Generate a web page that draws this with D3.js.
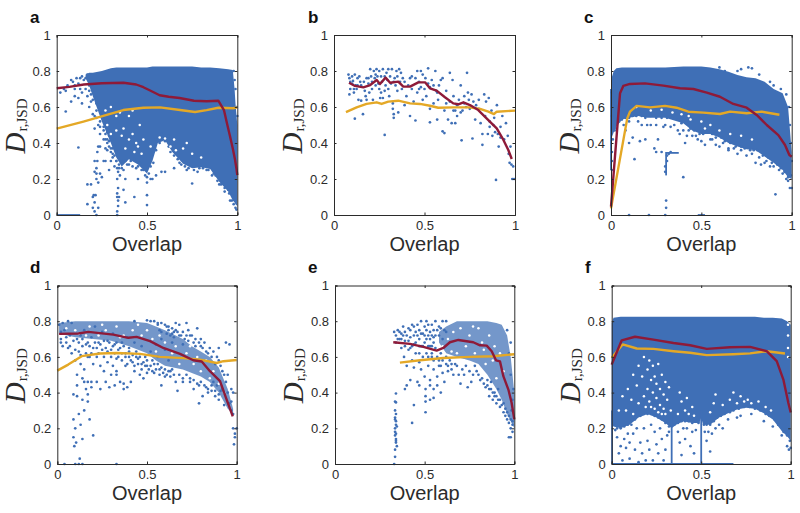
<!DOCTYPE html>
<html><head><meta charset="utf-8">
<script src="https://cdn.jsdelivr.net/npm/d3@7"></script>
<style>html,body{margin:0;padding:0;background:#fff}svg{display:block}</style></head>
<body><svg id="c" width="800" height="513"></svg>
<script>
const xTicks=[0,0.5,1], yTicks=[0,0.2,0.4,0.6,0.8,1];
// curves
const aRed=[[0,.704],[.07,.712],[.15,.725],[.25,.732],[.37,.735],[.44,.725],[.48,.71],[.52,.69],[.57,.665],[.62,.657],[.68,.65],[.76,.635],[.83,.632],[.895,.635],[.926,.583],[.945,.5],[.959,.44],[.975,.37],[.987,.31],[.995,.26],[1,.222]];
const aYel=[[0,.48],[.148,.519],[.277,.556],[.369,.583],[.48,.596],[.572,.598],[.683,.583],[.766,.572],[.83,.583],[.895,.596],[.978,.593],[1,.598]];
const bRed=[[.083,.735],[.116,.717],[.162,.709],[.2,.722],[.236,.75],[.254,.728],[.285,.763],[.31,.735],[.355,.741],[.383,.713],[.42,.713],[.466,.737],[.503,.737],[.53,.704],[.567,.691],[.613,.654],[.659,.62],[.687,.615],[.715,.626],[.751,.611],[.797,.583],[.843,.537],[.899,.481],[.936,.417],[.963,.361],[.982,.311]];
const bYel=[[.066,.572],[.125,.598],[.18,.617],[.236,.626],[.263,.617],[.3,.63],[.355,.635],[.42,.62],[.475,.617],[.53,.607],[.576,.596],[.659,.598],[.751,.598],[.807,.589],[.853,.574],[.884,.561],[.899,.574],[1,.58]];
const cRed=[[0,.046],[.022,.324],[.05,.676],[.068,.717],[.105,.728],[.188,.731],[.29,.719],[.382,.704],[.456,.7],[.53,.68],[.603,.657],[.677,.617],[.751,.596],[.806,.556],[.862,.5],[.926,.444],[.963,.389],[.987,.333],[1,.324]];
const cYel=[[0,.037],[.09,.537],[.105,.574],[.142,.606],[.216,.598],[.299,.606],[.363,.596],[.428,.574],[.511,.569],[.603,.561],[.659,.574],[.751,.565],[.834,.574],[.932,.557]];
const dRed=[[.01,.729],[.117,.731],[.173,.74],[.312,.725],[.396,.707],[.442,.712],[.517,.688],[.591,.65],[.684,.617],[.758,.581],[.805,.574],[.851,.52],[.907,.464],[.944,.361],[.978,.267]];
const dYel=[[0,.523],[.061,.557],[.136,.604],[.238,.619],[.331,.622],[.461,.617],[.572,.6],[.703,.593],[.796,.585],[.888,.566],[.926,.576],[1,.583]];
const eRed=[[.325,.682],[.418,.673],[.493,.656],[.567,.635],[.604,.65],[.641,.682],[.688,.695],[.771,.682],[.809,.665],[.846,.663],[.874,.632],[.898,.581],[.92,.575],[.939,.492],[.967,.417],[.985,.343],[1,.25]];
const eYel=[[.362,.568],[.474,.581],[.604,.594],[.753,.6],[.883,.604],[1,.615]];
const fRed=[[0,.557],[.019,.604],[.056,.693],[.13,.713],[.233,.697],[.345,.678],[.438,.665],[.531,.645],[.661,.654],[.773,.656],[.866,.632],[.922,.576],[.959,.473],[.987,.342],[1,.288]];
const fYel=[[0,.595],[.061,.67],[.14,.647],[.233,.645],[.345,.632],[.438,.623],[.531,.61],[.68,.615],[.773,.62],[.866,.632],[.968,.619]];
// dense cloud outlines: [overlap, upper, lower]
const aCloud=[[.16,.78,.76],[.18,.79,.72],[.2,.79,.66],[.25,.8,.52],[.3,.815,.4],[.33,.82,.32],[.36,.82,.27],[.4,.82,.31],[.45,.82,.28],[.5,.82,.23],[.53,.825,.3],[.56,.825,.4],[.6,.825,.415],[.64,.825,.35],[.7,.825,.285],[.75,.825,.26],[.8,.82,.265],[.85,.82,.255],[.9,.815,.185],[.95,.81,.13],[.975,.805,.08],[.985,.7,.07],[.99,.62,.06],[1,.5,.05]];
const bCloud=[];
const cCloud=[[0,.75,.42],[.015,.8,.46],[.03,.815,.49],[.06,.82,.53],[.1,.82,.54],[.15,.82,.55],[.2,.82,.54],[.3,.82,.54],[.4,.825,.51],[.45,.825,.47],[.5,.825,.45],[.55,.82,.45],[.6,.81,.43],[.65,.796,.4],[.7,.778,.38],[.75,.765,.365],[.8,.76,.36],[.85,.74,.325],[.9,.70,.29],[.95,.676,.25],[.98,.6,.21],[1,.35,.2]];
const dCloud=[[.01,.79,.73],[.1,.8,.71],[.2,.8,.7],[.3,.8,.69],[.4,.8,.66],[.5,.79,.62],[.55,.77,.58],[.6,.75,.55],[.7,.7,.53],[.75,.66,.51],[.8,.63,.49],[.85,.6,.46],[.9,.54,.4],[.95,.42,.31],[.98,.31,.28]];
const eCloud=[[.58,.74,.68],[.62,.77,.62],[.68,.8,.6],[.75,.8,.58],[.8,.8,.56],[.85,.8,.5],[.9,.79,.42],[.93,.78,.36],[.96,.72,.28],[.98,.6,.24],[1,.4,.2]];
const fCloud=[[0,.79,.22],[.01,.82,.21],[.05,.825,.2],[.1,.825,.22],[.15,.825,.26],[.2,.825,.28],[.25,.825,.26],[.3,.825,.23],[.335,.825,.2],[.36,.825,.22],[.4,.825,.24],[.45,.825,.23],[.49,.825,.23],[.5,.825,.26],[.51,.825,.22],[.55,.825,.22],[.6,.825,.26],[.65,.825,.285],[.7,.825,.305],[.75,.825,.315],[.8,.825,.31],[.85,.82,.285],[.9,.82,.25],[.95,.815,.185],[.98,.8,.155],[1,.78,.13]];
// thin runs of overlapping dots: [x0,y0,x1,y1]
const aRuns=[[0,0,.13,0]];
const bRuns=[];
const cRuns=[[.31,.345,.375,.345],[.305,.22,.305,.35],[.48,0,.52,0],[0,.25,0,.7]];
const dRuns=[];
const eRuns=[];
const fRuns=[[.335,0,.335,.28],[.5,0,.5,.3],[0,0,.68,0],[.002,0,.002,.3]];
// single dots
const aPts=[[.02,.68],[.04,.7],[.05,.69],[.06,.72],[.08,.75],[.09,.74],[.1,.72],[.1,.7],[.11,.76],[.12,.73],[.13,.7],[.14,.77],[.14,.68],[.05,.575],[.08,.63],[.1,.66],[.12,.375],[.12,.65],[.14,.62],[.16,.7],[.17,.66],[.18,.72],[.18,.6],[.19,.67],[.2,.71],[.2,.56],[.21,.48],[.22,.62],[.22,.54],[.23,.5],[.25,.55],[.26,.47],[.24,.45],[.17,.06],[.17,.17],[.19,.17],[.2,.1],[.2,.04],[.205,.11],[.21,.07],[.21,.02],[.215,.11],[.22,0],[.22,.23],[.22,.26],[.225,.3],[.225,.35],[.23,.04],[.21,.3],[.21,.24],[.22,.2],[.23,.18],[.24,.23],[.25,.21],[.24,.38],[.26,.3],[.23,.38],[.27,.42],[.335,0],[.335,.02],[.34,.05],[.34,.08],[.335,.1],[.335,.12],[.345,.1],[.34,.15],[.335,.2],[.34,.24],[.345,.28],[.35,.22],[.335,.26],[.33,.3],[.36,.3],[.37,.25],[.38,.2],[.37,.14],[.38,.07],[.3,.3],[.3,.35],[.29,.25],[.27,.3],[.28,.36],[.31,.37],[.32,.42],[.3,.42],[.33,.35],[.29,.44],[.28,.4],[.31,.32],[.32,.27],[.43,.1],[.5,.055],[.5,.11],[.52,.2],[.53,.2],[.55,.22],[.58,.24],[.5,.21],[.5,.18],[.45,.2],[.4,.28],[.42,.27],[.44,.26],[.47,.25],[.6,.24],[.65,.26],[.75,.175],[.83,.25],[.86,.22],[.88,.22],[.93,.13],[.95,.14],[.92,.18],[.9,.17],[.58,.45],[.6,.43],[.62,.44],[.56,.43],[.55,.42],[.68,.29],[.72,.25],[.78,.24],[.96,.08]];
const aEdge=[[.2,.64],[.22,.58],[.24,.52],[.26,.49],[.27,.45],[.28,.42],[.29,.38],[.31,.34],[.33,.3],[.345,.26],[.36,.26],[.38,.3],[.39,.28],[.41,.3],[.43,.31],[.45,.27],[.46,.29],[.48,.25],[.49,.22],[.51,.23],[.52,.27],[.535,.29],[.55,.36],[.57,.4],[.6,.41],[.62,.38],[.63,.35],[.65,.33],[.67,.31],[.69,.28],[.71,.27],[.73,.26],[.76,.25],[.79,.26],[.81,.26],[.84,.25],[.87,.23],[.89,.19],[.91,.17],[.93,.15],[.955,.12],[.97,.08],[.98,.06],[.99,.04],[.995,.03],[.16,.76],[.17,.78],[.15,.75],[.13,.76],[.18,.69],[.2,.69],[.22,.65],[.19,.63],[.23,.6],[.25,.57],[.21,.55],[.27,.54],[.24,.49],[.28,.46],[.26,.42],[.29,.41],[.27,.37],[.3,.37],[.32,.33],[.98,.8],[.985,.75],[.99,.7],[.995,.6],[1,.55]];
const aHoles=[[.3,.6],[.27,.58],[.28,.5],[.3,.45],[.33,.55],[.35,.57],[.37,.48],[.4,.55],[.4,.42],[.42,.45],[.44,.4],[.46,.5],[.45,.38],[.48,.42],[.42,.58],[.36,.44],[.33,.47],[.38,.37],[.57,.43],[.6,.425],[.63,.38],[.65,.42],[.7,.37],[.72,.4],[.66,.36],[.75,.34],[.8,.32],[.52,.38],[.47,.34],[.43,.35]];
const bPts=[[.08,.78],[.085,.76],[.09,.74],[.09,.7],[.085,.67],[.1,.77],[.105,.745],[.11,.7],[.11,.68],[.115,.78],[.12,.72],[.125,.7],[.13,.76],[.135,.64],[.14,.77],[.145,.74],[.15,.72],[.15,.635],[.115,.535],[.16,.56],[.165,.74],[.17,.69],[.175,.66],[.18,.76],[.18,.64],[.19,.73],[.195,.68],[.2,.81],[.205,.77],[.21,.74],[.21,.7],[.215,.64],[.22,.8],[.225,.76],[.23,.72],[.235,.81],[.24,.77],[.245,.73],[.25,.8],[.25,.7],[.255,.65],[.26,.77],[.26,.68],[.265,.74],[.27,.81],[.27,.65],[.28,.77],[.28,.445],[.285,.72],[.29,.79],[.295,.75],[.3,.81],[.3,.7],[.305,.66],[.31,.77],[.315,.73],[.32,.81],[.325,.62],[.325,.59],[.33,.56],[.33,.54],[.335,.76],[.34,.72],[.345,.8],[.35,.77],[.35,.69],[.355,.57],[.36,.81],[.365,.74],[.37,.79],[.375,.7],[.38,.76],[.39,.61],[.4,.66],[.41,.72],[.42,.55],[.43,.77],[.43,.7],[.44,.63],[.45,.76],[.45,.525],[.46,.68],[.46,.8],[.47,.74],[.48,.8],[.48,.71],[.49,.78],[.49,.64],[.5,.7],[.505,.76],[.51,.66],[.52,.815],[.52,.73],[.53,.59],[.53,.515],[.54,.75],[.55,.72],[.55,.62],[.56,.8],[.565,.69],[.57,.53],[.575,.64],[.58,.72],[.59,.75],[.6,.76],[.6,.465],[.61,.455],[.61,.58],[.62,.69],[.63,.53],[.64,.79],[.64,.63],[.65,.51],[.655,.75],[.66,.66],[.67,.51],[.67,.58],[.68,.55],[.68,.61],[.69,.64],[.7,.72],[.705,.415],[.71,.58],[.72,.66],[.73,.6],[.735,.79],[.74,.68],[.745,.64],[.75,.59],[.76,.67],[.765,.425],[.77,.63],[.78,.53],[.785,.61],[.8,.59],[.81,.51],[.82,.39],[.82,.45],[.83,.67],[.835,.55],[.84,.63],[.85,.45],[.855,.65],[.86,.49],[.87,.58],[.875,.44],[.885,.54],[.89,.46],[.895,.195],[.9,.61],[.905,.45],[.91,.38],[.92,.43],[.93,.55],[.94,.42],[.95,.51],[.96,.44],[.965,.34],[.97,.29],[.975,.38],[.98,.28],[.985,.2],[.99,.27],[.995,.2],[.92,.49],[.88,.5],[.86,.52],[.8,.64],[.76,.6],[.72,.62],[.7,.57],[.66,.58],[.62,.62],[.57,.68],[.53,.71],[.47,.7],[.42,.76],[.39,.74],[.33,.74],[.28,.69],[.23,.78],[.19,.76],[.13,.72],[.1,.73]];
const bEdge=[];
const bHoles=[];
const cPts=[[.005,.35],[.005,.3],[.005,.25],[.01,.42],[.07,.5],[.08,.47],[.1,.4],[.12,.43],[.13,.31],[.16,.41],[.19,.42],[.2,.5],[.25,.5],[.26,.42],[.24,.37],[.25,.35],[.28,.35],[.3,.5],[.33,.49],[.37,.47],[.38,.45],[.4,.47],[.42,.44],[.4,.21],[.41,.4],[.45,.44],[.48,.42],[.5,.41],[.52,.39],[.55,.42],[.58,.39],[.6,.38],[.65,.36],[.7,.34],[.75,.33],[.8,.29],[.83,.28],[.85,.29],[.88,.27],[.91,.115],[.95,.23],[.97,.2],[.98,.19],[.99,.15],[1,.15],[.305,.08],[.305,.04],[.21,0],[.3,0],[.1,0],[.32,.34],[.33,.35],[.31,.33],[.31,.3],[.3,.27],[.3,.24],[.65,.37],[.72,.36],[.47,.44],[.15,.52],[.17,.5],[.22,.5],[.29,.49],[.35,.5],[.43,.47],[.56,.42],[.62,.4],[.68,.37],[.78,.34],[.82,.32],[.86,.3],[.9,.27],[.93,.25],[.1,.52],[.66,.78],[.7,.8],[.72,.81],[.76,.82],[.78,.815],[.82,.78],[.9,.72],[.88,.74],[.94,.7],[.97,.67],[.63,.8],[.6,.82]];
const cEdge=[[.005,.68],[.005,.55],[.01,.5],[.02,.47],[.03,.48],[.045,.52],[.06,.53],[.08,.54],[.1,.54],[.12,.55],[.14,.55],[.17,.55],[.19,.54],[.22,.55],[.25,.54],[.28,.54],[.31,.54],[.34,.54],[.37,.53],[.39,.51],[.42,.51],[.44,.48],[.46,.47],[.49,.45],[.51,.45],[.53,.46],[.56,.45],[.58,.43],[.61,.43],[.63,.41],[.66,.4],[.69,.38],[.72,.38],[.74,.37],[.77,.36],[.79,.36],[.81,.36],[.84,.33],[.87,.32],[.89,.29],[.92,.28],[.94,.26],[.96,.24],[.98,.21],[.995,.22],[.99,.5],[.995,.4],[1,.3],[.985,.6]];
const cHoles=[[.14,.6],[.22,.58],[.28,.585],[.34,.57],[.39,.56],[.44,.53],[.5,.52],[.55,.5],[.6,.47],[.66,.45],[.72,.44],[.78,.42],[.52,.48],[.43,.55]];
const dPts=[[.01,.78],[.02,.74],[.03,.79],[.02,.68],[.04,.75],[.05,.68],[.06,.8],[.06,.65],[.07,.72],[.08,.79],[.08,.62],[.09,.39],[.09,.25],[.09,.15],[.095,.1],[.1,.58],[.1,.2],[.105,.12],[.11,.7],[.11,.5],[.11,.44],[.11,.38],[.12,.63],[.12,.28],[.125,.03],[.13,.72],[.13,.22],[.13,.56],[.14,.66],[.14,.48],[.14,.36],[.14,.14],[.15,.75],[.15,.53],[.15,.46],[.15,.3],[.16,.62],[.16,.42],[.17,.68],[.17,.46],[.17,.39],[.17,.35],[.18,.25],[.18,.6],[.19,.71],[.19,.46],[.19,.43],[.2,.65],[.2,.56],[.2,.16],[.21,.77],[.22,.6],[.22,.46],[.23,.68],[.24,.55],[.24,.42],[.25,.74],[.25,.64],[.26,.52],[.27,.46],[.28,.69],[.28,.57],[.29,.43],[.3,.64],[.3,.5],[.31,.73],[.31,.55],[.32,.67],[.32,.44],[.33,.59],[.33,.52],[.33,.5],[.34,.64],[.35,.46],[.36,.68],[.36,.58],[.37,.45],[.37,.42],[.38,.62],[.38,.55],[.39,.71],[.39,.43],[.4,.65],[.4,.6],[.41,.46],[.42,.57],[.43,.68],[.43,.52],[.44,.63],[.45,.59],[.46,.5],[.47,.66],[.47,.56],[.48,.48],[.49,.6],[.5,.55],[.5,.51],[.52,.63],[.53,.58],[.54,.51],[.55,.67],[.56,.6],[.57,.53],[.58,.44],[.58,.7],[.6,.64],[.6,.49],[.61,.77],[.62,.58],[.63,.52],[.64,.68],[.65,.74],[.66,.46],[.67,.41],[.68,.78],[.69,.72],[.7,.67],[.7,.48],[.72,.79],[.73,.75],[.74,.46],[.75,.72],[.76,.42],[.77,.7],[.78,.76],[.79,.34],[.79,.44],[.8,.7],[.81,.38],[.82,.68],[.83,.43],[.84,.4],[.85,.65],[.86,.41],[.87,.63],[.88,.38],[.89,.6],[.9,.65],[.9,.36],[.91,.55],[.92,.42],[.93,.33],[.94,.68],[.95,.5],[.96,.67],[.97,.42],[.98,.2],[.98,.4],[.99,.17],[.985,.11],[.99,.15],[1,.2],[.04,0],[.1,0],[.12,0],[.14,0],[.33,0],[.43,.8],[.5,.805],[.52,.8],[.54,.8],[.56,.79],[.58,.79],[.62,.77],[.64,.76],[.66,.79]];
const dEdge=[[.02,.7],[.03,.66],[.05,.71],[.07,.66],[.09,.69],[.1,.64],[.12,.68],[.13,.61],[.14,.7],[.16,.67],[.17,.6],[.18,.66],[.19,.62],[.21,.68],[.22,.65],[.23,.62],[.24,.67],[.26,.69],[.26,.6],[.27,.65],[.28,.63],[.29,.68],[.3,.6],[.31,.66],[.32,.62],[.33,.68],[.34,.6],[.35,.65],[.36,.62],[.37,.66],[.38,.6],[.39,.56],[.4,.63],[.41,.58],[.42,.61],[.43,.55],[.44,.6],[.45,.56],[.46,.6],[.47,.53],[.48,.57],[.49,.55],[.5,.58],[.51,.53],[.52,.55],[.53,.52],[.54,.56],[.55,.53],[.56,.56],[.57,.5],[.58,.54],[.59,.51],[.6,.53],[.61,.5],[.62,.52],[.63,.49],[.64,.53],[.65,.5],[.56,.78],[.57,.75],[.58,.74],[.6,.78],[.61,.73],[.62,.75],[.63,.72],[.64,.73],[.65,.71],[.66,.75],[.67,.74],[.68,.72],[.7,.74],[.71,.7],[.72,.72],[.73,.69],[.74,.72],[.76,.68],[.77,.66],[.79,.68],[.8,.66],[.81,.65],[.83,.63],[.84,.62],[.86,.6],[.87,.46],[.88,.56],[.89,.44],[.9,.58],[.91,.41],[.92,.52],[.93,.5],[.94,.46],[.95,.4],[.96,.34],[.97,.3],[.97,.35],[.98,.28],[.68,.5],[.7,.46],[.72,.5],[.74,.48],[.76,.47],[.78,.45],[.8,.46],[.82,.44],[.84,.42],[.86,.44],[.88,.41],[.9,.39]];
const dHoles=[[.05,.76],[.12,.73],[.18,.77],[.23,.72],[.27,.75],[.33,.77],[.37,.72],[.42,.75],[.47,.72],[.5,.75],[.53,.7],[.57,.72],[.6,.68],[.64,.62],[.68,.56],[.72,.62],[.76,.56],[.8,.52],[.83,.58],[.87,.52],[.9,.45],[.93,.4],[.1,.75],[.16,.72],[.25,.78],[.35,.71],[.45,.78],[.55,.63],[.66,.66],[.74,.66],[.78,.6],[.85,.48]];
const ePts=[[.33,.74],[.34,.72],[.34,.68],[.35,.75],[.36,.7],[.37,.65],[.37,.73],[.38,.77],[.385,.6],[.39,.69],[.39,.74],[.4,.55],[.4,.44],[.39,.42],[.41,.76],[.41,.64],[.42,.71],[.42,.47],[.43,.78],[.43,.58],[.43,.23],[.44,.67],[.44,.33],[.44,.54],[.45,.74],[.45,.62],[.46,.46],[.46,.78],[.47,.7],[.47,.57],[.47,.44],[.48,.8],[.48,.66],[.48,.53],[.49,.73],[.49,.6],[.5,.77],[.5,.68],[.5,.49],[.505,.42],[.505,.38],[.505,.35],[.505,.29],[.51,.62],[.51,.8],[.52,.72],[.52,.55],[.53,.66],[.53,.47],[.53,.44],[.53,.36],[.54,.78],[.54,.6],[.55,.71],[.55,.53],[.55,.42],[.55,.37],[.56,.8],[.56,.65],[.57,.75],[.57,.49],[.57,.44],[.58,.58],[.59,.55],[.59,.4],[.6,.51],[.6,.8],[.61,.46],[.62,.56],[.62,.8],[.63,.52],[.65,.56],[.66,.5],[.68,.55],[.7,.45],[.72,.5],[.74,.43],[.76,.46],[.78,.55],[.8,.5],[.82,.48],[.84,.43],[.85,.47],[.86,.38],[.87,.42],[.88,.36],[.89,.4],[.9,.34],[.91,.36],[.92,.32],[.94,.29],[.95,.27],[.96,.25],[.97,.23],[.97,.15],[.98,.15],[.98,.2],[.99,.18],[.99,.24],[.34,.395],[.335,.35],[.34,.345],[.335,.26],[.34,.22],[.345,.21],[.335,.18],[.34,.14],[.34,.13],[.335,.04],[.33,0],[.58,.72],[.6,.7],[.62,.74],[.52,.6],[.54,.66],[.47,.62],[.44,.72],[.42,.65]];
const eEdge=[[.35,.7],[.36,.74],[.37,.7],[.38,.72],[.39,.66],[.4,.72],[.41,.69],[.42,.75],[.43,.66],[.44,.77],[.45,.68],[.46,.72],[.47,.75],[.47,.66],[.48,.73],[.49,.66],[.5,.72],[.51,.75],[.51,.7],[.52,.78],[.52,.66],[.53,.74],[.53,.7],[.54,.62],[.54,.72],[.55,.68],[.55,.75],[.55,.58],[.56,.72],[.57,.6],[.58,.77],[.58,.55],[.59,.62],[.59,.76],[.6,.58],[.61,.75],[.62,.6],[.63,.55],[.64,.58],[.65,.53],[.67,.56],[.69,.5],[.71,.53],[.73,.55],[.75,.52],[.77,.5],[.79,.52],[.81,.47],[.83,.45],[.85,.44],[.86,.42],[.87,.46],[.88,.4],[.89,.38],[.9,.38],[.91,.42],[.92,.36],[.93,.33],[.94,.34],[.95,.31],[.96,.29],[.97,.27],[.98,.25],[.99,.22],[.985,.3],[.99,.36],[.995,.42],[.98,.5],[.97,.62],[.98,.68],[.96,.75],[.335,.3],[.34,.28],[.335,.25],[.34,.24],[.335,.2],[.34,.17],[.335,.16],[.34,.12],[.345,.1],[.335,.08]];
const eHoles=[[.57,.7],[.6,.66],[.63,.7],[.66,.74],[.68,.62],[.7,.76],[.73,.66],[.75,.72],[.78,.62],[.8,.76],[.82,.68],[.84,.56],[.86,.72],[.88,.58],[.9,.48],[.92,.62],[.94,.52],[.72,.58],[.77,.77],[.65,.63],[.61,.62],[.89,.66],[.83,.64]];
const fPts=[[.02,.19],[.03,.15],[.04,.06],[.05,.1],[.06,.02],[.07,.14],[.08,.09],[.09,.17],[.1,.12],[.1,.03],[.12,.17],[.13,.08],[.14,.2],[.15,.01],[.16,.12],[.17,.06],[.18,.2],[.19,.02],[.2,.13],[.21,.08],[.22,.22],[.23,.02],[.24,.18],[.25,.11],[.26,.06],[.27,.2],[.28,.14],[.29,.02],[.3,.08],[.31,.16],[.32,.18],[.37,.18],[.38,.12],[.39,.05],[.4,.2],[.41,.14],[.42,.2],[.44,.1],[.45,.18],[.46,.06],[.47,.19],[.52,.18],[.53,.13],[.54,.18],[.55,.07],[.56,.17],[.58,.2],[.6,.22],[.62,.2],[.65,.25],[.7,.26],[.72,.27],[.78,.28],[.85,.24],[.9,.21],[.95,.16],[.98,.1],[.99,.08]];
const fEdge=[[.01,.22],[.03,.2],[.05,.2],[.07,.21],[.09,.22],[.11,.22],[.13,.25],[.16,.27],[.18,.28],[.2,.28],[.22,.28],[.24,.27],[.26,.26],[.28,.25],[.3,.23],[.32,.21],[.35,.22],[.37,.23],[.39,.24],[.41,.24],[.43,.24],[.45,.23],[.47,.24],[.485,.23],[.515,.22],[.53,.22],[.55,.22],[.57,.24],[.59,.26],[.61,.27],[.63,.28],[.66,.29],[.68,.3],[.71,.31],[.74,.32],[.77,.32],[.8,.31],[.83,.3],[.86,.28],[.88,.27],[.91,.25],[.93,.22],[.96,.18],[.98,.16],[.995,.13],[1,.09]];
const fHoles=[[.04,.3],[.06,.38],[.08,.3],[.09,.42],[.11,.36],[.12,.28],[.12,.5],[.14,.44],[.15,.34],[.15,.55],[.17,.49],[.18,.38],[.18,.6],[.19,.32],[.2,.53],[.2,.42],[.21,.58],[.21,.35],[.22,.47],[.22,.32],[.23,.55],[.23,.4],[.24,.31],[.24,.49],[.25,.37],[.25,.45],[.26,.56],[.27,.33],[.27,.42],[.28,.5],[.29,.31],[.29,.39],[.3,.46],[.28,.28],[.3,.28],[.31,.36],[.32,.43],[.26,.29],[.33,.3],[.37,.28],[.39,.35],[.38,.4],[.41,.3],[.42,.37],[.43,.28],[.45,.32],[.46,.27],[.55,.29],[.57,.34],[.58,.39],[.62,.33],[.66,.36],[.68,.4],[.7,.34],[.72,.38],[.74,.35],[.76,.36],[.78,.34],[.82,.35],[.86,.32],[.89,.3],[.985,.78],[.985,.72],[.985,.65],[.985,.6]];
const config=[
 {n:"a",red:aRed,yel:aYel,cloud:aCloud,runs:aRuns,pts:aPts.concat(aEdge),holes:aHoles,x0:56.7,x1:237.3,y0:215,y1:35,lx:30,ly:23},
 {n:"b",red:bRed,yel:bYel,cloud:bCloud,runs:bRuns,pts:bPts.concat(bEdge),holes:bHoles,x0:334,x1:515,y0:215,y1:35,lx:308,ly:23},
 {n:"c",red:cRed,yel:cYel,cloud:cCloud,runs:cRuns,pts:cPts.concat(cEdge),holes:cHoles,x0:611,x1:791.7,y0:215,y1:35,lx:584,ly:23},
 {n:"d",red:dRed,yel:dYel,cloud:dCloud,runs:dRuns,pts:dPts.concat(dEdge),holes:dHoles,x0:57.3,x1:236.7,y0:464,y1:285.5,lx:30,ly:273},
 {n:"e",red:eRed,yel:eYel,cloud:eCloud,runs:eRuns,pts:ePts.concat(eEdge),holes:eHoles,x0:335,x1:514.3,y0:464,y1:285.5,lx:308,ly:273},
 {n:"f",red:fRed,yel:fYel,cloud:fCloud,runs:fRuns,pts:fPts.concat(fEdge),holes:fHoles,x0:611.7,x1:790.7,y0:464,y1:285.5,lx:585,ly:273}
];
const BLUE="#3f6fb6",RED="#8e1a38",YEL="#e4a826",INK="#2b2b2b";
const sans="'Liberation Sans',Arial,sans-serif", serif="'Liberation Serif','Times New Roman',serif";
const svg=d3.select("#c");
config.forEach(p=>{
 const x=d3.scaleLinear().domain([0,1]).range([p.x0,p.x1]);
 const y=d3.scaleLinear().domain([0,1]).range([p.y0,p.y1]);
 const g=svg.append("g");
 const dense=(p.n==="d"||p.n==="e");
 if(p.cloud.length) g.append("path").datum(p.cloud)
   .attr("d",d3.area().x(d=>x(d[0])).y0(d=>y(d[2])).y1(d=>y(d[1])))
   .attr("fill",BLUE).attr("fill-opacity",dense?0.72:1);
 g.selectAll(null).data(p.runs).join("line")
   .attr("x1",d=>x(d[0])).attr("y1",d=>y(d[1])).attr("x2",d=>x(d[2])).attr("y2",d=>y(d[3]))
   .attr("stroke",BLUE).attr("stroke-width",1.8);
 g.selectAll(null).data(p.pts).join("circle")
   .attr("cx",d=>x(d[0])).attr("cy",d=>y(d[1])).attr("r",1.35).attr("fill",BLUE);
 g.selectAll(null).data(p.holes).join("circle")
   .attr("cx",d=>x(d[0])).attr("cy",d=>y(d[1])).attr("r",1.25).attr("fill","#fff");
 const ln=d3.line().x(d=>x(d[0])).y(d=>y(d[1]));
 g.append("path").datum(p.yel).attr("d",ln).attr("fill","none").attr("stroke",YEL).attr("stroke-width",2.4).attr("stroke-linejoin","round");
 g.append("path").datum(p.red).attr("d",ln).attr("fill","none").attr("stroke",RED).attr("stroke-width",2.4).attr("stroke-linejoin","round");
 const fmt=d=>String(d);
 const style=a=>{a.select(".domain").attr("stroke",INK).attr("stroke-width",1);
   a.selectAll(".tick line").attr("stroke",INK);
   a.selectAll("text").attr("font-family",sans).attr("font-size",13).attr("fill",INK);};
 const TS=-2.5;
 style(g.append("g").attr("transform",`translate(0,${p.y0})`).call(d3.axisBottom(x).tickValues(xTicks).tickFormat(fmt).tickSize(TS).tickPadding(6)));
 style(g.append("g").attr("transform",`translate(${p.x0},0)`).call(d3.axisLeft(y).tickValues(yTicks).tickFormat(fmt).tickSize(TS).tickPadding(6)));
 style(g.append("g").attr("transform",`translate(0,${p.y1})`).call(d3.axisTop(x).tickValues(xTicks).tickFormat("").tickSize(TS)));
 style(g.append("g").attr("transform",`translate(${p.x1},0)`).call(d3.axisRight(y).tickValues(yTicks).tickFormat("").tickSize(TS)));
 g.append("text").attr("x",(p.x0+p.x1)/2).attr("y",p.y0+36).attr("text-anchor","middle")
   .attr("font-family",sans).attr("font-size",20).attr("fill",INK).text("Overlap");
 const yl=g.append("text").attr("transform",`translate(${p.x0-32},${(p.y0+p.y1)/2+1}) rotate(-90)`)
   .attr("text-anchor","middle").attr("font-family",serif).attr("fill",INK);
 yl.append("tspan").attr("font-style","italic").attr("font-size",29).text("D");
 yl.append("tspan").attr("font-size",15).attr("dy",2).attr("dx",1).text("r,JSD");
 g.append("text").attr("x",p.lx).attr("y",p.ly).attr("font-family",sans).attr("font-weight","bold")
   .attr("font-size",17).attr("fill","#111").text(p.n);
});
</script></body></html>
